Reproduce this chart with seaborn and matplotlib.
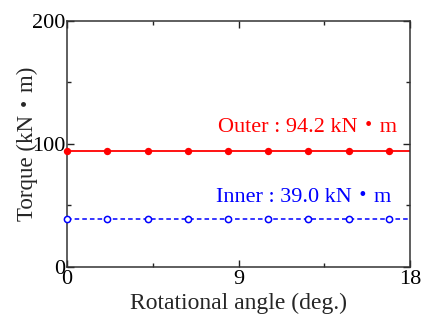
import matplotlib
matplotlib.use("Agg")
import matplotlib.pyplot as plt
import numpy as np
import pandas as pd
import seaborn as sns

# rotational angle (deg.) of each sample and torque (kN*m)
angle = [0, 2.11, 4.22, 6.33, 8.44, 10.55, 12.66, 14.77, 16.9]
outer_torque = [94.2, 94.2, 94.2, 94.2, 94.2, 94.2, 94.2, 94.2, 94.2]
inner_torque = [39.0, 39.0, 39.0, 39.0, 39.0, 39.0, 39.0, 39.0, 39.0]
outer_label = "Outer : 94.2 kN・m"
inner_label = "Inner : 39.0 kN・m"

sns.set_style("ticks")
plt.rcParams['font.family'] = ['Liberation Serif', 'Noto Sans CJK JP']

df = pd.DataFrame({"angle": angle, "outer": outer_torque, "inner": inner_torque})

fig = plt.figure(figsize=(4.22, 3.22), dpi=100)
ax = fig.add_axes([0.159, 0.171, 0.813, 0.765])

# full-width lines (extend beyond the markers to the axis edges)
ax.axhline(outer_torque[0], color="red", lw=1.3, zorder=1)
ax.axhline(inner_torque[0], color="blue", lw=1.1, ls=(0, (3, 2)), zorder=1)

sns.scatterplot(data=df, x="angle", y="outer", ax=ax, color="red",
                s=28, edgecolor="red", linewidth=0, zorder=3, clip_on=False)
sns.scatterplot(data=df, x="angle", y="inner", ax=ax, color="white",
                s=20, edgecolor="blue", linewidth=1.1, zorder=3, clip_on=False)

# label positions in pixels (from bottom-left of the figure)
ax.text(308, 195, outer_label, transform=None, color="red", fontsize=16,
        ha="center", va="center")
ax.text(304, 124, inner_label, transform=None, color="blue", fontsize=16,
        ha="center", va="center")

ax.set_xlim(0, 18)
ax.set_ylim(0, 200)
ax.set_xticks([0, 9, 18])
ax.set_xticks([4.5, 13.5], minor=True)
ax.set_yticks([0, 100, 200])
ax.set_yticks([50, 150], minor=True)
ax.tick_params(which="both", direction="in", top=True, right=True,
               labelsize=16, colors="#222222", labelcolor="black")
ax.tick_params(axis="x", pad=2)
ax.tick_params(axis="y", pad=1)
ax.tick_params(which="major", length=5, width=1)
ax.tick_params(which="minor", length=3, width=1)
for s in ax.spines.values():
    s.set_linewidth(1.1)
    s.set_color("#333333")

ax.set_xlabel("Rotational angle (deg.)", fontsize=17, labelpad=3)
ax.set_ylabel("Torque (kN・m)", fontsize=16.5, labelpad=-4)

fig.savefig("out.png", dpi=100)
